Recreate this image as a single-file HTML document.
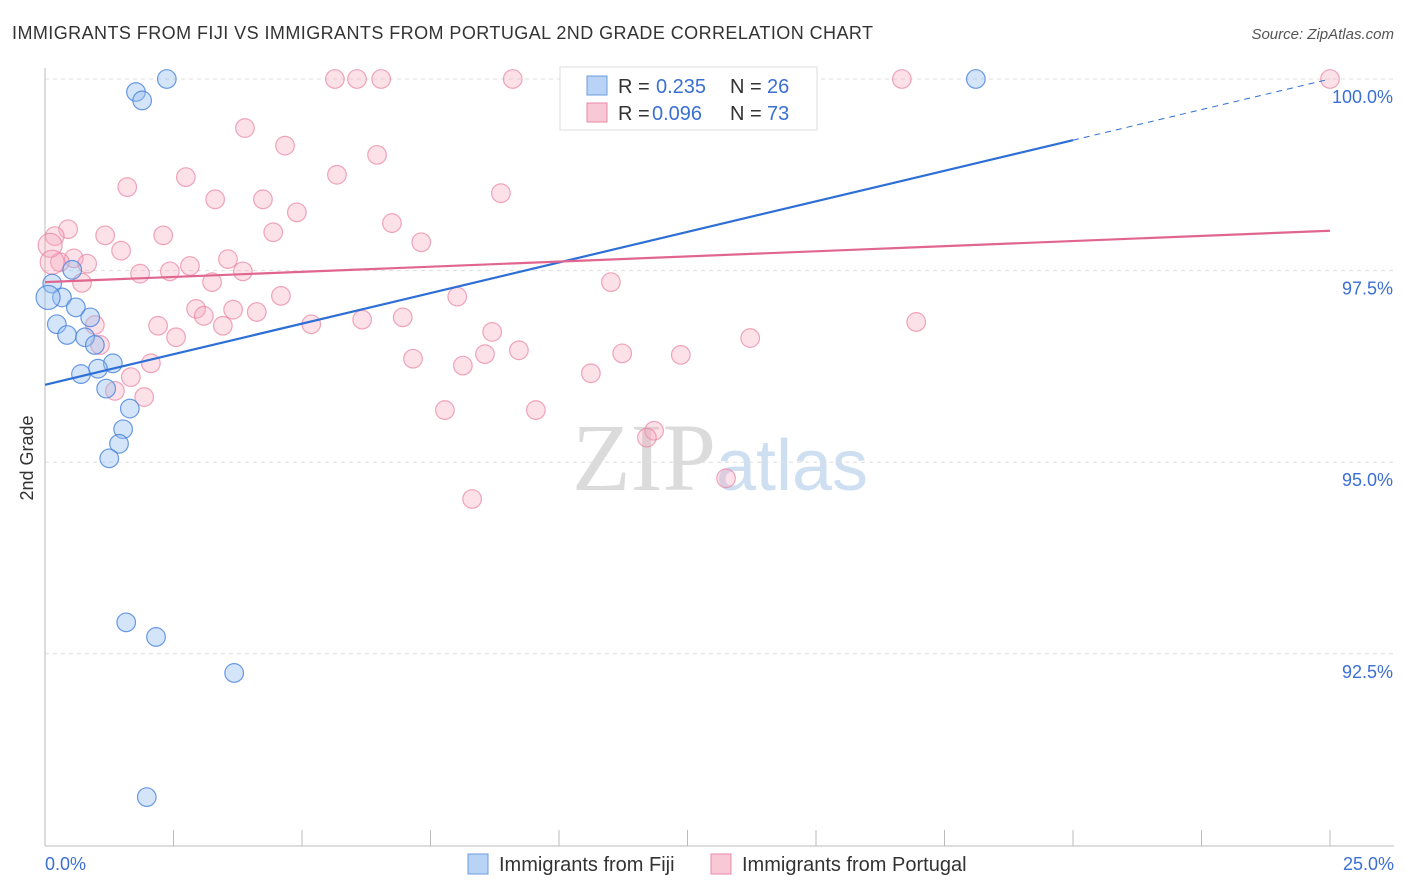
<!DOCTYPE html>
<html><head><meta charset="utf-8">
<style>
body{margin:0;background:#fff;font-family:"Liberation Sans",sans-serif;}
svg{display:block}
</style></head>
<body>
<svg id="chart" width="1406" height="892" xmlns="http://www.w3.org/2000/svg">
<text x="12" y="39" font-size="18" fill="#333" font-family="Liberation Sans, sans-serif" textLength="861">IMMIGRANTS FROM FIJI VS IMMIGRANTS FROM PORTUGAL 2ND GRADE CORRELATION CHART</text>
<text x="1394" y="39" font-size="15" fill="#555" text-anchor="end" font-style="italic">Source: ZipAtlas.com</text>
<text x="720" y="490" font-size="96" text-anchor="middle" fill="#ddd" opacity="0.9"><tspan font-family="Liberation Serif, serif" fill="#d8d8d8">ZIP</tspan><tspan font-family="Liberation Sans, sans-serif" fill="#c8dcf0" font-size="72">atlas</tspan></text>
<g id="grid"></g>
<g id="axes"></g>
<g id="points"></g>
<g id="lines"></g>
<text transform="translate(33,458) rotate(-90)" font-size="18" fill="#333" text-anchor="middle">2nd Grade</text>
<g>
<rect x="560" y="67" width="257" height="63" fill="#fff" stroke="#ddd"/>
<rect x="587" y="76" width="20" height="19" fill="#b8d3f5" stroke="#6b9ee0"/>
<text x="618" y="93" font-size="20" fill="#333">R = </text><text x="656" y="93" font-size="20" fill="#3b6fd4">0.235</text>
<text x="730" y="93" font-size="20" fill="#333">N = </text><text x="767" y="93" font-size="20" fill="#3b6fd4">26</text>
<rect x="587" y="103" width="20" height="19" fill="#f9c8d6" stroke="#e88aa6"/>
<text x="618" y="120" font-size="20" fill="#333">R = </text><text x="652" y="120" font-size="20" fill="#3b6fd4">0.096</text>
<text x="730" y="120" font-size="20" fill="#333">N = </text><text x="767" y="120" font-size="20" fill="#3b6fd4">73</text>
</g>
<g>
<rect x="468" y="854" width="20" height="20" fill="#b8d3f5" stroke="#6b9ee0"/>
<text x="499" y="871" font-size="20" fill="#333">Immigrants from Fiji</text>
<rect x="711" y="854" width="20" height="20" fill="#f9c8d6" stroke="#e88aa6"/>
<text x="742" y="871" font-size="20" fill="#333">Immigrants from Portugal</text>
</g>
</svg>
<script>
const yTicks=[100,97.5,95,92.5];
const yTickLabels=["100.0%","97.5%","95.0%","92.5%"];
const xTicks=[0,2.5,5,7.5,10,12.5,15,17.5,20,22.5,25];
const fijiX=[2.37,1.77,1.89,0.53,0.14,0.33,0.60,0.88,0.06,0.23,0.43,0.78,0.97,1.32,1.03,0.70,1.19,1.65,1.52,1.44,1.25,1.58,2.16,3.68,1.98,18.11];
const fijiY=[100,99.83,99.72,97.51,97.33,97.15,97.02,96.89,97.15,96.80,96.66,96.63,96.53,96.29,96.22,96.15,95.96,95.70,95.43,95.24,95.05,92.91,92.72,92.25,90.63,100];
const portPx=[[335,79],[357,79],[381,79],[513,79],[765,79],[902,79],[1330,79],[245,128],[285,146],[377,155],[186,177],[337,175],[127,187],[215,199],[263,199],[501,193],[297,212],[392,223],[68,229],[55,236],[105,235],[163,235],[273,232],[421,242],[121,251],[228,259],[74,258],[60,262],[87,264],[190,266],[243,271],[140,274],[170,271],[82,283],[212,282],[281,296],[457,297],[611,282],[196,309],[233,310],[257,312],[204,316],[95,325],[158,326],[223,326],[311,324],[362,320],[403,317],[916,322],[176,337],[492,332],[100,345],[519,350],[750,338],[622,353],[485,354],[681,355],[151,363],[413,359],[463,366],[131,377],[591,373],[115,391],[144,397],[445,410],[536,410],[654,431],[647,438],[726,478],[472,499],[50,245],[760,79],[52,262]];
const portX=[],portY=[];
portPx.forEach(p=>{portX.push(+((p[0]-45)*0.019455).toFixed(2));portY.push(+(100-(p[1]-79)*0.013048).toFixed(2));});
const fijiLine=[96.01,100];
const portLine=[97.35,98.02];
const NS="http://www.w3.org/2000/svg";
const xs=v=>45+v/25*1285;
const ys=v=>79+(100-v)/2.5*191.6;
function mk(t,a,parent){const e=document.createElementNS(NS,t);for(const k in a)e.setAttribute(k,a[k]);document.getElementById(parent).appendChild(e);return e;}
yTicks.forEach((v,i)=>{
 const l=mk('line',{x1:45,x2:1394,y1:ys(v),y2:ys(v),stroke:'#ddd','stroke-dasharray':'4,4'},'grid');
 
 
 const t=mk('text',{x:1393,y:ys(v)+24,'font-size':18,fill:'#3b6fd4','text-anchor':'end'},'axes');
 t.textContent=yTickLabels[i];
 
 
});
const ax=mk('line',{x1:45,x2:45,y1:68,y2:846,stroke:'#bbb'},'axes');


const bx=mk('line',{x1:45,x2:1394,y1:846,y2:846,stroke:'#bbb'},'axes');


xTicks.forEach(v=>{const l=mk('line',{x1:xs(v),x2:xs(v),y1:830,y2:846,stroke:'#bbb'},'axes');
 
 });
let t=mk('text',{x:45,y:870,'font-size':18,fill:'#3b6fd4'},'axes');t.textContent='0.0%';


t=mk('text',{x:1394,y:870,'font-size':18,fill:'#3b6fd4','text-anchor':'end'},'axes');t.textContent='25.0%';


portX.forEach((x,i)=>{const c=mk('circle',{cx:xs(x),cy:ys(portY[i]),r:(i>=70&&i!=71)?12:9.3,fill:'rgba(246,168,192,0.35)',stroke:'rgba(232,130,160,0.7)','stroke-width':1.2},'points');
 
 });
fijiX.forEach((x,i)=>{const c=mk('circle',{cx:xs(x),cy:ys(fijiY[i]),r:i==8?12:9.3,fill:'rgba(150,190,240,0.4)',stroke:'rgba(70,130,220,0.8)','stroke-width':1.2},'points');
 
 });
const fy=x=>fijiLine[0]+(fijiLine[1]-fijiLine[0])*x/25;
let l=mk('line',{x1:xs(0),y1:ys(fy(0)),x2:xs(20),y2:ys(fy(20)),stroke:'#2e6fd6','stroke-width':2.2},'lines');


l=mk('line',{x1:xs(20),y1:ys(fy(20)),x2:xs(25),y2:ys(fy(25)),stroke:'#2e6fd6','stroke-width':1,'stroke-dasharray':'6,5'},'lines');


l=mk('line',{x1:xs(0),y1:ys(portLine[0]),x2:xs(25),y2:ys(portLine[1]),stroke:'#e06690','stroke-width':2.2},'lines');


</script>
</body></html>
